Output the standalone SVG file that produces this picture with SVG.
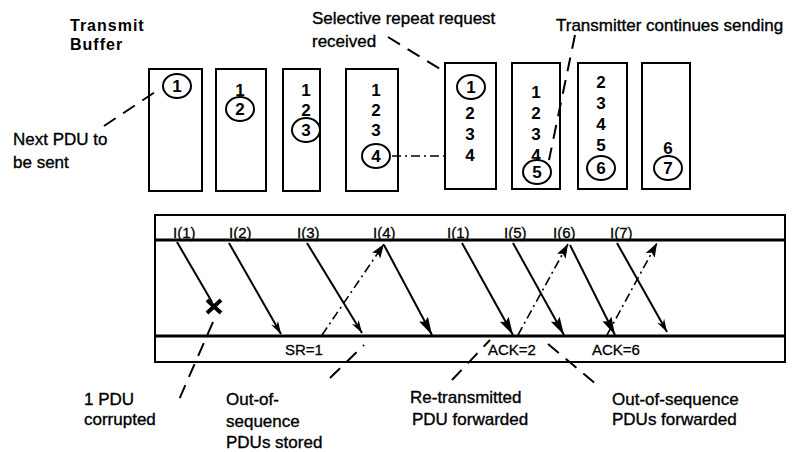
<svg xmlns="http://www.w3.org/2000/svg" width="793" height="452" viewBox="0 0 793 452">
<defs>
<style>
text{font-family:"Liberation Sans",Arial,sans-serif;fill:#000}
.lbl{font-size:17px;stroke:#000;stroke-width:0.35}
.hdr{font-size:16px;font-weight:bold;letter-spacing:1px}
.num{font-size:17px;font-weight:bold;text-anchor:middle}
.io{font-size:15px;stroke:#000;stroke-width:0.3}
.buf{fill:#fff;stroke:#000;stroke-width:2}
.circ{fill:none;stroke:#000;stroke-width:2}
.frame{fill:none;stroke:#000;stroke-width:2}
.rule{stroke:#000;stroke-width:3}
.send{stroke:#000;stroke-width:2;fill:none}
.ret{stroke:#000;stroke-width:1.6;fill:none;stroke-dasharray:9 4 2 4}
.lead{stroke:#000;stroke-width:2;fill:none;stroke-dasharray:14 9}
</style>
<marker id="big" markerUnits="userSpaceOnUse" markerWidth="20" markerHeight="12" refX="18" refY="5" orient="auto">
<path d="M0,0 L18,5 L0,10 L3,5 z" fill="#000"/>
</marker>
<marker id="thin" markerUnits="userSpaceOnUse" markerWidth="16" markerHeight="10" refX="13" refY="4" orient="auto">
<path d="M0,0 L13,4 L0,8 L4,4 z" fill="#000"/>
</marker>
<marker id="up" markerUnits="userSpaceOnUse" markerWidth="16" markerHeight="12" refX="14" refY="5" orient="auto">
<path d="M0,0 L14,5 L0,10 L3,5 z" fill="#000"/>
</marker>
</defs>
<rect width="793" height="452" fill="#fff"/>

<g id="title">
<text class="hdr" x="70" y="31">Transmit</text>
<text class="hdr" x="70" y="50">Buffer</text>
</g>

<g id="buffer1">
<rect class="buf" x="149" y="69" width="53" height="122"/>
<ellipse class="circ" cx="177" cy="86" rx="14" ry="12"/>
<text class="num" x="177" y="92">1</text>
</g>
<g id="buffer2">
<rect class="buf" x="216" y="69" width="50" height="122"/>
<text class="num" x="240" y="96">1</text>
<ellipse class="circ" cx="240" cy="109" rx="14" ry="12"/>
<text class="num" x="240" y="115">2</text>
</g>
<g id="buffer3">
<rect class="buf" x="283" y="69" width="37" height="122"/>
<text class="num" x="306" y="96">1</text>
<text class="num" x="306" y="116">2</text>
<ellipse class="circ" cx="306" cy="130" rx="14" ry="12"/>
<text class="num" x="306" y="136">3</text>
</g>
<g id="buffer4">
<rect class="buf" x="346" y="69" width="52" height="122"/>
<text class="num" x="376" y="96">1</text>
<text class="num" x="376" y="116">2</text>
<text class="num" x="376" y="136">3</text>
<ellipse class="circ" cx="376" cy="156" rx="14" ry="12"/>
<text class="num" x="376" y="162">4</text>
</g>
<g id="buffer5">
<rect class="buf" x="445" y="63" width="51" height="126"/>
<ellipse class="circ" cx="471" cy="87" rx="14" ry="12"/>
<text class="num" x="471" y="93">1</text>
<text class="num" x="470" y="119">2</text>
<text class="num" x="470" y="140">3</text>
<text class="num" x="470" y="161">4</text>
</g>
<g id="buffer6">
<rect class="buf" x="512" y="63" width="48" height="126"/>
<text class="num" x="536" y="98">1</text>
<text class="num" x="536" y="119">2</text>
<text class="num" x="536" y="140">3</text>
<text class="num" x="536" y="161">4</text>
<ellipse class="circ" cx="537" cy="172" rx="14" ry="12"/>
<text class="num" x="537" y="178">5</text>
</g>
<g id="buffer7">
<rect class="buf" x="578" y="63" width="49" height="126"/>
<text class="num" x="601" y="88">2</text>
<text class="num" x="601" y="109">3</text>
<text class="num" x="601" y="130">4</text>
<text class="num" x="601" y="151">5</text>
<ellipse class="circ" cx="601" cy="168" rx="14" ry="12"/>
<text class="num" x="601" y="174">6</text>
</g>
<g id="buffer8">
<rect class="buf" x="642" y="63" width="48" height="126"/>
<text class="num" x="668" y="154">6</text>
<ellipse class="circ" cx="668" cy="168" rx="14" ry="12"/>
<text class="num" x="668" y="174">7</text>
</g>

<g id="link">
<rect class="frame" x="155" y="215" width="630" height="147"/>
<line class="rule" x1="155" y1="240" x2="785" y2="240"/>
<line class="rule" x1="155" y1="336" x2="785" y2="336"/>
<text class="io" x="173" y="238">I(1)</text>
<text class="io" x="229" y="238">I(2)</text>
<text class="io" x="297" y="238">I(3)</text>
<text class="io" x="373" y="238">I(4)</text>
<text class="io" x="447" y="238">I(1)</text>
<text class="io" x="504" y="238">I(5)</text>
<text class="io" x="553" y="238">I(6)</text>
<text class="io" x="610" y="238">I(7)</text>
<text class="io" x="285" y="355">SR=1</text>
<text class="io" x="488" y="355">ACK=2</text>
<text class="io" x="592" y="355">ACK=6</text>
</g>

<g id="connectors">
<line class="send" x1="177" y1="242" x2="212" y2="302"/>
<path d="M207,300 L221,313 M221,300 L207,313" stroke="#000" stroke-width="4" fill="none"/>
<line class="send" x1="229" y1="243" x2="281" y2="334" marker-end="url(#thin)"/>
<line class="send" x1="307" y1="243" x2="362" y2="333" marker-end="url(#thin)"/>
<line class="send" x1="384" y1="245" x2="432" y2="335" marker-end="url(#big)"/>
<line class="send" x1="462" y1="243" x2="513" y2="335" marker-end="url(#big)"/>
<line class="send" x1="513" y1="243" x2="564" y2="335" marker-end="url(#big)"/>
<line class="send" x1="570" y1="245" x2="615" y2="335" marker-end="url(#big)"/>
<line class="send" x1="617" y1="243" x2="667" y2="332" marker-end="url(#thin)"/>
<line class="ret" x1="322" y1="335" x2="384" y2="244" marker-end="url(#up)"/>
<line class="ret" x1="518" y1="335" x2="568" y2="244" marker-end="url(#up)"/>
<line class="ret" x1="607" y1="335" x2="657" y2="243" marker-end="url(#up)"/>
<line class="lead" x1="104" y1="126" x2="155" y2="92"/>
<line class="lead" x1="388" y1="37" x2="440" y2="69"/>
<line class="lead" x1="575" y1="35" x2="549" y2="160"/>
<line class="ret" x1="392" y1="156" x2="445" y2="156"/>
<line class="lead" x1="213" y1="322" x2="178" y2="402"/>
<line class="lead" x1="330" y1="378" x2="364" y2="345"/>
<line class="lead" x1="452" y1="380" x2="490" y2="340"/>
<line class="lead" x1="548" y1="344" x2="596" y2="384"/>
</g>

<g id="labels">
<text class="lbl" x="312" y="24">Selective repeat request</text>
<text class="lbl" x="312" y="47">received</text>
<text class="lbl" x="556" y="31">Transmitter continues sending</text>
<text class="lbl" x="13" y="145">Next PDU to</text>
<text class="lbl" x="13" y="168">be sent</text>
<text class="lbl" x="84" y="405">1 PDU</text>
<text class="lbl" x="84" y="425">corrupted</text>
<text class="lbl" x="226" y="405">Out-of-</text>
<text class="lbl" x="226" y="427">sequence</text>
<text class="lbl" x="226" y="448">PDUs stored</text>
<text class="lbl" x="410" y="403">Re-transmitted</text>
<text class="lbl" x="412" y="425">PDU forwarded</text>
<text class="lbl" x="612" y="405">Out-of-sequence</text>
<text class="lbl" x="612" y="425">PDUs forwarded</text>
</g>
</svg>
